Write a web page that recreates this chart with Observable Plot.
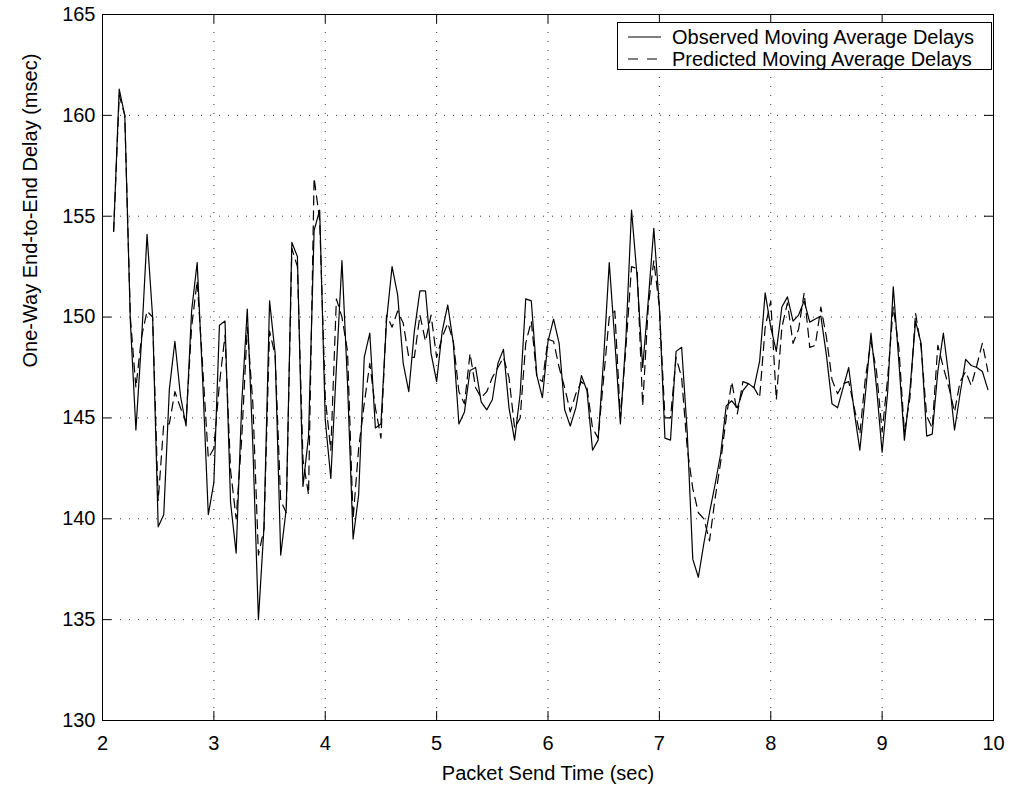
<!DOCTYPE html>
<html>
<head>
<meta charset="utf-8">
<script src="https://cdn.jsdelivr.net/npm/d3@7"></script>
<script src="https://cdn.jsdelivr.net/npm/@observablehq/plot@0.6"></script>
<style>
  html, body { margin: 0; padding: 0; background: #fff; }
  #wrap { position: relative; width: 1013px; height: 793px; font-family: "Liberation Sans", Arial, Helvetica, sans-serif; }
  #legend { position: absolute; left: 617px; top: 22px; width: 375px; height: 48px; box-sizing: border-box;
            border: 1px solid #000; background: #fff; }
  #legend svg { display: block; }
</style>
</head>
<body>
<div id="wrap">
  <div id="chart"></div>
  <div id="legend"></div>
</div>
<script>
// ---- data ----
const seriesNames = ["Observed Moving Average Delays", "Predicted Moving Average Delays"];
const xTicks = [2, 3, 4, 5, 6, 7, 8, 9, 10];
const yTicks = [130, 135, 140, 145, 150, 155, 160, 165];

const sendTime = [
  2.10,2.15,2.20,2.25,2.30,2.35,2.40,2.45,2.50,2.55,
  2.60,2.65,2.70,2.75,2.80,2.85,2.90,2.95,3.00,3.05,
  3.10,3.15,3.20,3.25,3.30,3.35,3.40,3.45,3.50,3.55,
  3.60,3.65,3.70,3.75,3.80,3.85,3.90,3.95,4.00,4.05,
  4.10,4.15,4.20,4.25,4.30,4.35,4.40,4.45,4.50,4.55,
  4.60,4.65,4.70,4.75,4.80,4.85,4.90,4.95,5.00,5.05,
  5.10,5.15,5.20,5.25,5.30,5.35,5.40,5.45,5.50,5.55,
  5.60,5.65,5.70,5.75,5.80,5.85,5.90,5.95,6.00,6.05,
  6.10,6.15,6.20,6.25,6.30,6.35,6.40,6.45,6.50,6.55,
  6.60,6.65,6.70,6.75,6.80,6.85,6.90,6.95,7.00,7.05,
  7.10,7.15,7.20,7.25,7.30,7.35,7.40,7.45,7.50,7.55,
  7.60,7.65,7.70,7.75,7.80,7.85,7.90,7.95,8.00,8.05,
  8.10,8.15,8.20,8.25,8.30,8.35,8.40,8.45,8.50,8.55,
  8.60,8.65,8.70,8.75,8.80,8.85,8.90,8.95,9.00,9.05,
  9.10,9.15,9.20,9.25,9.30,9.35,9.40,9.45,9.50,9.55,
  9.60,9.65,9.70,9.75,9.80,9.85,9.90,9.95
];

const observed = [
  154.25,161.3,160.0,149.8,144.4,148.8,154.1,150.0,139.6,140.2,
  146.4,148.8,146.1,144.6,150.3,152.7,146.8,140.2,141.8,149.6,
  149.8,140.8,138.3,145.7,150.4,143.6,135.0,139.6,150.8,148.2,
  138.2,140.5,153.7,153.0,141.6,144.1,154.3,155.3,144.9,142.0,
  147.5,152.8,146.7,139.0,141.2,148.0,149.2,144.5,144.7,149.8,
  152.5,151.1,147.7,146.3,149.3,151.3,151.3,148.2,146.8,149.3,
  150.6,148.7,144.7,145.3,147.35,147.5,145.8,145.4,145.9,147.7,
  148.4,145.5,143.9,146.2,150.9,150.8,147.1,146.0,148.8,149.9,
  148.7,145.4,144.6,145.5,147.1,146.35,143.4,143.9,148.0,152.7,
  148.8,144.7,149.0,155.3,152.0,147.5,150.8,154.4,150.5,144.0,
  143.9,148.3,148.5,144.3,138.0,137.1,138.8,140.3,141.7,143.2,
  145.6,145.85,145.5,146.35,146.7,146.5,147.8,151.2,149.5,148.3,
  150.5,151.0,149.8,150.1,150.8,149.75,149.9,150.05,148.1,145.7,
  145.5,146.5,147.5,145.3,143.4,146.2,149.2,146.5,143.3,146.3,
  151.5,147.8,143.9,146.4,149.8,148.7,144.1,144.2,147.3,149.2,
  147.0,144.4,146.2,147.9,147.6,147.5,147.3,146.4
];

const predicted = [
  154.25,161.0,160.0,150.0,146.5,149.0,150.3,150.0,140.9,144.7,
  144.7,146.3,145.5,144.8,149.5,151.8,147.5,143.0,143.5,146.7,
  149.1,142.4,140.0,144.0,149.5,145.7,138.2,139.5,149.3,148.1,
  140.9,140.3,153.4,152.5,142.95,141.2,156.9,154.8,146.0,143.4,
  150.9,150.0,148.3,140.0,143.5,145.7,147.7,145.5,144.0,150.1,
  149.5,150.3,149.7,148.0,148.0,150.1,148.8,150.1,148.0,149.0,
  149.7,148.8,146.3,145.7,148.2,146.5,146.0,146.3,147.0,147.5,
  148.0,147.0,144.5,145.0,148.7,149.8,147.0,146.8,148.9,148.8,
  147.5,146.5,145.3,146.2,146.8,146.5,144.5,144.0,147.0,150.0,
  150.3,145.0,148.5,152.5,152.4,145.6,150.5,152.8,150.5,145.0,
  145.0,148.0,147.0,143.5,141.5,140.3,140.0,138.9,141.0,142.8,
  145.0,146.8,145.2,146.8,146.7,146.5,146.0,149.5,150.8,145.9,
  149.5,150.7,148.7,149.4,151.2,148.5,148.6,150.5,149.0,146.9,
  146.2,146.7,146.8,145.5,144.2,147.0,148.8,147.3,144.3,147.0,
  150.5,148.5,144.3,146.0,150.2,148.5,145.1,144.5,148.6,147.5,
  146.5,145.3,146.8,147.3,146.6,147.6,148.7,147.3
];

const xTitle = "Packet Send Time (sec)";
const yTitle = "One-Way End-to-End Delay (msec)";

// ---- build table ----
const rows = sendTime.map((t, i) => ({t, obs: observed[i], pred: predicted[i]}));

const FONT = '"Liberation Sans", Arial, Helvetica, sans-serif';
const W = 1013, H = 793, ML = 102, MR = 20, MT = 14, MB = 73;
const frameW = W - ML - MR, frameH = H - MT - MB;
const TICK = 9;
const dot = {stroke: "#000", strokeOpacity: 0.8, strokeWidth: 1, strokeDasharray: "1,8"};

const chart = Plot.plot({
  width: W, height: H,
  marginLeft: ML, marginRight: MR, marginTop: MT, marginBottom: MB,
  style: {fontFamily: FONT, fontSize: "20px", background: "#fff", color: "#000", overflow: "visible"},
  x: {domain: [2, 10], label: null},
  y: {domain: [130, 165], label: null},
  marks: [
    Plot.gridX(xTicks, dot),
    Plot.gridY(yTicks, dot),
    Plot.tickX(xTicks, {x: d => d, insetTop: frameH - TICK, stroke: "#000"}),
    Plot.tickX(xTicks, {x: d => d, insetBottom: frameH - TICK, stroke: "#000"}),
    Plot.tickY(yTicks, {y: d => d, insetRight: frameW - TICK, stroke: "#000"}),
    Plot.tickY(yTicks, {y: d => d, insetLeft: frameW - TICK, stroke: "#000"}),
    Plot.line(rows, {x: "t", y: "pred", stroke: "#000", strokeWidth: 1.2, strokeDasharray: "9,6"}),
    Plot.line(rows, {x: "t", y: "obs", stroke: "#000", strokeWidth: 1.2}),
    Plot.frame({stroke: "#000", strokeWidth: 1}),
    Plot.axisX(xTicks, {tickSize: 0, tickPadding: 15, label: null, tickFormat: d => String(d)}),
    Plot.axisY(yTicks, {tickSize: 0, tickPadding: 7, label: null, tickFormat: d => String(d)}),
    Plot.text([xTitle], {frameAnchor: "bottom", dy: 59, text: d => d}),
    Plot.text([yTitle], {frameAnchor: "left", dx: -72, rotate: -90, text: d => d})
  ]
});
document.getElementById("chart").appendChild(chart);

// ---- legend ----
const lg = d3.select("#legend").append("svg").attr("width", 373).attr("height", 46)
  .style("font-family", FONT).style("font-size", "20px");
const entries = [
  {name: seriesNames[0], dash: null},
  {name: seriesNames[1], dash: "10,9"}
];
entries.forEach((e, i) => {
  const cy = 14 + i * 22;
  lg.append("line").attr("x1", 10).attr("x2", 43).attr("y1", cy).attr("y2", cy)
    .attr("stroke", "#000").attr("stroke-width", 1.2).attr("stroke-dasharray", e.dash);
  lg.append("text").attr("x", 54).attr("y", cy).attr("dy", "0.35em").attr("fill", "#000").text(e.name);
});
</script>
</body>
</html>
